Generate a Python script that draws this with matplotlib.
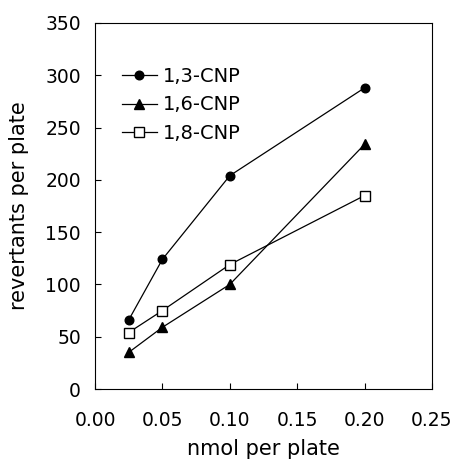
import matplotlib
matplotlib.use("Agg")
import matplotlib.pyplot as plt

dose = [0.025, 0.05, 0.10, 0.20]
cnp13 = [66, 124, 204, 288]
cnp16 = [35, 59, 100, 234]
cnp18 = [54, 75, 119, 185]
series_names = ["1,3-CNP", "1,6-CNP", "1,8-CNP"]

plt.rcParams['font.family'] = ['DejaVu Sans']
fig = plt.figure(figsize=(4.53, 4.61), dpi=100)
ax = fig.add_axes([95/453, 1 - 389/461, (432-95)/453, (389-23)/461])

lw = 0.9
ax.plot(dose, cnp13, '-o', color='black', lw=lw, ms=6.2, mfc='black', mec='black', label=series_names[0])
ax.plot(dose, cnp16, '-^', color='black', lw=lw, ms=7, mfc='black', mec='black', label=series_names[1])
ax.plot(dose, cnp18, '-s', color='black', lw=lw, ms=6.8, mfc='white', mec='black', mew=1.0, label=series_names[2])

ax.set_xlim(0, 0.25)
ax.set_ylim(0, 350)
ax.set_xticks([0, 0.05, 0.10, 0.15, 0.20, 0.25])
ax.set_xticklabels(["0.00", "0.05", "0.10", "0.15", "0.20", "0.25"])
ax.set_yticks(range(0, 351, 50))
ax.tick_params(axis='both', direction='in', labelsize=13.5, length=4, width=0.8)
ax.tick_params(axis='x', pad=16)
ax.tick_params(axis='y', pad=10)
for s in ax.spines.values():
    s.set_linewidth(0.8)

ax.set_xlabel("nmol per plate", fontsize=15, labelpad=6)
ax.set_ylabel("revertants per plate", fontsize=15, labelpad=12)

ax.legend(loc='upper left', bbox_to_anchor=(0.057, 0.902), frameon=False, fontsize=14,
          handlelength=1.8, handletextpad=0.3, labelspacing=0.5, borderaxespad=0)

fig.savefig("out.png", dpi=100)
